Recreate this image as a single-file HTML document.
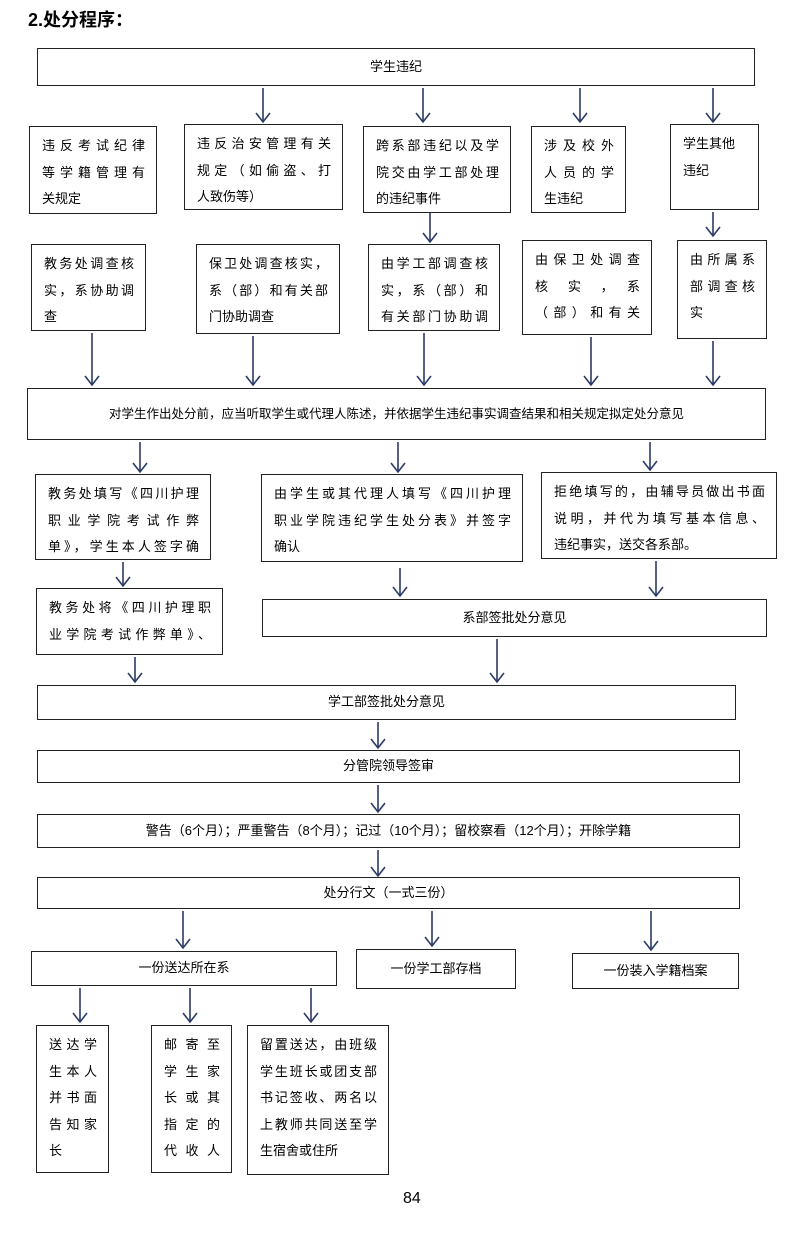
<!DOCTYPE html>
<html><head><meta charset="utf-8"><style>
body{margin:0;width:800px;height:1244px;background:#fff;position:relative;font-family:"Liberation Sans","Noto Sans CJK SC",sans-serif;color:#000;overflow:hidden}
.b{position:absolute;border:1.3px solid #222;box-sizing:border-box;font-size:13px;line-height:26.5px;padding:6px 11px 0 12px;overflow:hidden;white-space:nowrap}
.b div{text-align:justify;text-align-last:justify}
.b div.n{text-align-last:left}
.c{text-align:center;padding:0;display:flex;align-items:center;justify-content:center}
svg{position:absolute;left:0;top:0}
</style></head><body>
<div style="position:absolute;left:28px;top:6px;font-size:18px;font-weight:bold">2.处分程序：</div>
<div class="b c" style="left:37px;top:48px;width:718px;height:38px">学生违纪</div>

<div class="b" style="left:29px;top:126px;width:128px;height:88px"><div>违反考试纪律</div><div>等学籍管理有</div><div class="n">关规定</div></div>
<div class="b" style="left:184px;top:124px;width:159px;height:86px"><div>违反治安管理有关</div><div>规定（如偷盗、打</div><div class="n">人致伤等）</div></div>
<div class="b" style="left:363px;top:126px;width:148px;height:87px"><div>跨系部违纪以及学</div><div>院交由学工部处理</div><div class="n">的违纪事件</div></div>
<div class="b" style="left:531px;top:126px;width:95px;height:87px"><div>涉及校外</div><div>人员的学</div><div class="n">生违纪</div></div>
<div class="b" style="left:670px;top:124px;width:89px;height:86px"><div class="n">学生其他</div><div class="n">违纪</div></div>

<div class="b" style="left:31px;top:244px;width:115px;height:87px"><div>教务处调查核</div><div>实，系协助调</div><div class="n">查</div></div>
<div class="b" style="left:196px;top:244px;width:144px;height:90px"><div>保卫处调查核实，</div><div>系（部）和有关部</div><div class="n">门协助调查</div></div>
<div class="b" style="left:368px;top:244px;width:132px;height:87px"><div>由学工部调查核</div><div>实，系（部）和</div><div>有关部门协助调</div></div>
<div class="b" style="left:522px;top:240px;width:130px;height:95px"><div>由保卫处调查</div><div>核　实　，　系</div><div>（部）和有关</div></div>
<div class="b" style="left:677px;top:240px;width:90px;height:99px"><div>由所属系</div><div>部调查核</div><div class="n">实</div></div>

<div class="b c" style="left:27px;top:388px;width:739px;height:52px;font-size:12.5px">对学生作出处分前，应当听取学生或代理人陈述，并依据学生违纪事实调查结果和相关规定拟定处分意见</div>

<div class="b" style="left:35px;top:474px;width:176px;height:86px"><div>教务处填写《四川护理</div><div>职业学院考试作弊</div><div>单》，学生本人签字确</div></div>
<div class="b" style="left:261px;top:474px;width:262px;height:88px"><div>由学生或其代理人填写《四川护理</div><div>职业学院违纪学生处分表》并签字</div><div class="n">确认</div></div>
<div class="b" style="left:541px;top:472px;width:236px;height:87px"><div>拒绝填写的，由辅导员做出书面</div><div>说明，并代为填写基本信息、</div><div class="n">违纪事实，送交各系部。</div></div>
<div class="b" style="left:36px;top:588px;width:187px;height:67px"><div>教务处将《四川护理职</div><div>业学院考试作弊单》、</div></div>
<div class="b c" style="left:262px;top:599px;width:505px;height:38px">系部签批处分意见</div>
<div class="b c" style="left:37px;top:685px;width:699px;height:35px">学工部签批处分意见</div>
<div class="b c" style="left:37px;top:750px;width:703px;height:33px">分管院领导签审</div>
<div class="b c" style="left:37px;top:814px;width:703px;height:34px">警告（6个月）；严重警告（8个月）；记过（10个月）；留校察看（12个月）；开除学籍</div>
<div class="b c" style="left:37px;top:877px;width:703px;height:32px">处分行文（一式三份）</div>
<div class="b c" style="left:31px;top:951px;width:306px;height:35px">一份送达所在系</div>
<div class="b c" style="left:356px;top:949px;width:160px;height:40px">一份学工部存档</div>
<div class="b c" style="left:572px;top:953px;width:167px;height:36px">一份装入学籍档案</div>
<div class="b" style="left:36px;top:1025px;width:73px;height:148px"><div>送达学</div><div>生本人</div><div>并书面</div><div>告知家</div><div class="n">长</div></div>
<div class="b" style="left:151px;top:1025px;width:81px;height:148px"><div>邮寄至</div><div>学生家</div><div>长或其</div><div>指定的</div><div>代收人</div></div>
<div class="b" style="left:247px;top:1025px;width:142px;height:150px"><div>留置送达，由班级</div><div>学生班长或团支部</div><div>书记签收、两名以</div><div>上教师共同送至学</div><div class="n">生宿舍或住所</div></div>
<div style="position:absolute;left:403px;top:1190px;font-size:16px">84</div>

<svg width="800" height="1244" fill="none" stroke="#2b3a67" stroke-width="1.6">
<g id="a">
<path d="M263 88V122M423 88V122M580 88V122M713 88V122M430 213V242M713 212V236M92 333V385M253 336V385M424 333V385M591 337V385M713 341V385M140 442V472M398 442V472M650 442V470M123 562V586M400 568V596M656 561V596M135 657V682M497 639V682M378 722V748M378 785V812M378 850V876M183 911V948M432 911V946M651 911V950M80 988V1022M190 988V1022M311 988V1022"/>
</g>
<path d="M256 113L263 122L270 113M416 113L423 122L430 113M573 113L580 122L587 113M706 113L713 122L720 113M423 233L430 242L437 233M706 227L713 236L720 227M85 376L92 385L99 376M246 376L253 385L260 376M417 376L424 385L431 376M584 376L591 385L598 376M706 376L713 385L720 376M133 463L140 472L147 463M391 463L398 472L405 463M643 461L650 470L657 461M116 577L123 586L130 577M393 587L400 596L407 587M649 587L656 596L663 587M128 673L135 682L142 673M490 673L497 682L504 673M371 739L378 748L385 739M371 803L378 812L385 803M371 867L378 876L385 867M176 939L183 948L190 939M425 937L432 946L439 937M644 941L651 950L658 941M73 1013L80 1022L87 1013M183 1013L190 1022L197 1013M304 1013L311 1022L318 1013"/>
</svg>
</body></html>
